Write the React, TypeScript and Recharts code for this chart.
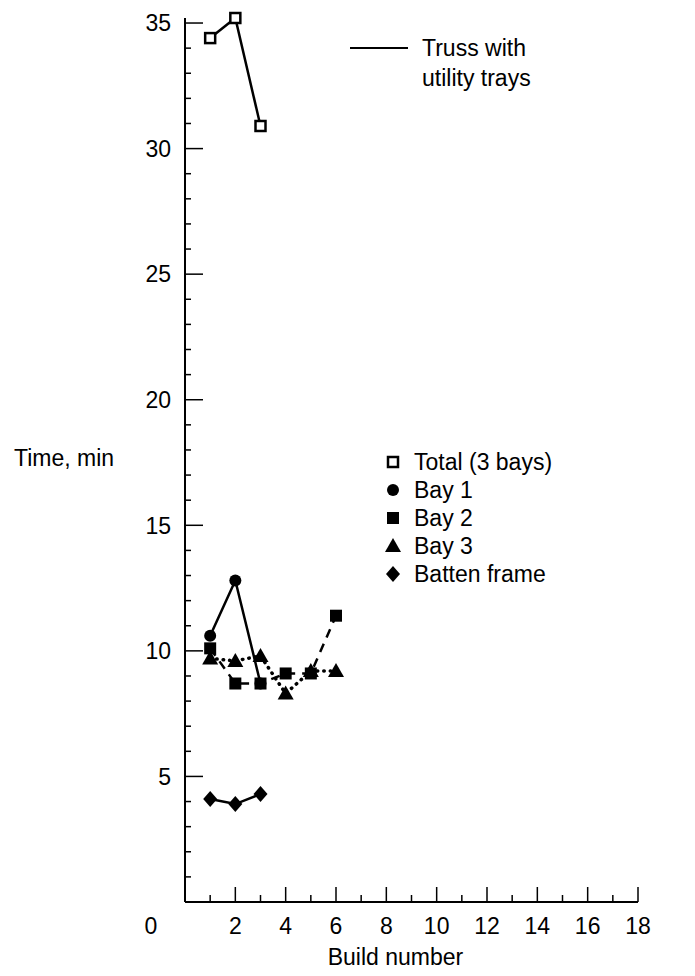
import React from 'react'
import { LineChart, Line, XAxis, YAxis, Legend } from 'recharts'

// build numbers and times (min)
const builds = [1, 2, 3, 4, 5, 6]
const totalTime = [34.4, 35.2, 30.9]
const bay1Time = [10.6, 12.8, 8.7]
const bay2Time = [10.1, 8.7, 8.7, 9.1, 9.1, 11.4]
const bay3Time = [9.7, 9.6, 9.8, 8.3, 9.2, 9.2]
const battenTime = [4.1, 3.9, 4.3]

const xTicks = Array.from({ length: 19 }, (_, i) => i)
const yTicks = Array.from({ length: 36 }, (_, i) => i)

const FONT = "'Liberation Sans', Arial, sans-serif"
const FS = 23

// plot frame: left edge = margin.left + YAxis width, bottom = height - XAxis height
const AXIS_X = 185
const AXIS_Y = 902

const toRows = (vals: number[]) => vals.map((t, i) => ({ build: builds[i], time: t }))

type MarkerKind = 'hollowSquare' | 'circle' | 'square' | 'triangle' | 'diamond'

function Marker({ kind, cx, cy }: { kind: MarkerKind; cx: number; cy: number }) {
  switch (kind) {
    case 'hollowSquare':
      return <rect x={cx - 5} y={cy - 5} width={10} height={10} fill="#fff" stroke="#000" strokeWidth={2.5} />
    case 'circle':
      return <circle cx={cx} cy={cy} r={6} fill="#000" />
    case 'square':
      return <rect x={cx - 6} y={cy - 6} width={12} height={12} fill="#000" />
    case 'triangle':
      return <polygon points={`${cx},${cy - 8} ${cx + 8},${cy + 6} ${cx - 8},${cy + 6}`} fill="#000" />
    default:
      return <polygon points={`${cx},${cy - 8} ${cx + 7},${cy} ${cx},${cy + 8} ${cx - 7},${cy}`} fill="#000" />
  }
}

const dotFor = (kind: MarkerKind) => (p: any) => {
  if (p.cx == null || p.cy == null) return <g key={p.key ?? p.index} />
  return (
    <g key={`${kind}-${p.index}`}>
      <Marker kind={kind} cx={p.cx} cy={p.cy} />
    </g>
  )
}

const series = [
  { name: 'Total (3 bays)', data: toRows(totalTime), marker: 'hollowSquare' as MarkerKind, dash: undefined },
  { name: 'Bay 1', data: toRows(bay1Time), marker: 'circle' as MarkerKind, dash: undefined },
  { name: 'Bay 2', data: toRows(bay2Time), marker: 'square' as MarkerKind, dash: '9 7' },
  { name: 'Bay 3', data: toRows(bay3Time), marker: 'triangle' as MarkerKind, dash: '0.5 6' },
  { name: 'Batten frame', data: toRows(battenTime), marker: 'diamond' as MarkerKind, dash: undefined },
]

function XTick(props: any) {
  const { x, payload } = props
  const y = AXIS_Y
  const v = payload.value
  if (v === 0) {
    return (
      <text x={x - 34} y={y + 32} textAnchor="middle" fontSize={FS} fontFamily={FONT} fill="#000">0</text>
    )
  }
  const major = v % 2 === 0
  return (
    <g>
      <line x1={x} y1={y} x2={x} y2={y - (major ? 15 : 7)} stroke="#000" strokeWidth={1.5} />
      {major && (
        <text x={x} y={y + 32} textAnchor="middle" fontSize={FS} fontFamily={FONT} fill="#000">{v}</text>
      )}
    </g>
  )
}

function YTick(props: any) {
  const { y, payload } = props
  const x = AXIS_X
  const v = payload.value
  if (v === 0) return <g />
  const major = v % 5 === 0
  return (
    <g>
      <line x1={x} y1={y} x2={x + (major ? 18 : 6)} y2={y} stroke="#000" strokeWidth={1.5} />
      {major && (
        <text x={x - 14} y={y} dy="0.36em" textAnchor="end" fontSize={FS} fontFamily={FONT} fill="#000">{v}</text>
      )}
    </g>
  )
}

function LegendBox() {
  return (
    <div style={{ fontFamily: FONT, fontSize: FS, color: '#000' }}>
      {series.map((s) => (
        <div key={s.name} style={{ display: 'flex', alignItems: 'center', height: 28 }}>
          <svg width={22} height={20} style={{ marginRight: 10 }}>
            <Marker kind={s.marker} cx={11} cy={10} />
          </svg>
          <span>{s.name}</span>
        </div>
      ))}
    </div>
  )
}

export default function App() {
  return (
    <div style={{ position: 'relative', width: 695, height: 976, fontFamily: FONT, background: '#fff' }}>
      <style>{`body{margin:0}`}</style>
      <LineChart width={695} height={976} margin={{ top: 18, right: 57, bottom: 0, left: 0 }}>
        <XAxis
          type="number"
          dataKey="build"
          domain={[0, 18]}
          ticks={xTicks}
          interval={0}
          allowDuplicatedCategory={false}
          height={74}
          tickSize={0}
          tickMargin={0}
          tickLine={false}
          tick={<XTick />}
          axisLine={{ stroke: '#000', strokeWidth: 2 }}
          label={{
            content: (p: any) => {
              const vb = p.viewBox
              return (
                <text x={vb.x + vb.width / 2 - 16} y={vb.y + 63} textAnchor="middle" fontSize={FS} fontFamily={FONT} fill="#000">
                  Build number
                </text>
              )
            },
          }}
        />
        <YAxis
          type="number"
          domain={[0, 35]}
          ticks={yTicks}
          interval={0}
          width={185}
          tickSize={0}
          tickMargin={0}
          tickLine={false}
          tick={<YTick />}
          axisLine={{ stroke: '#000', strokeWidth: 2 }}
          label={{
            content: (p: any) => {
              const vb = p.viewBox
              return (
                <text x={14} y={vb.y + vb.height / 2 + 6} fontSize={FS} fontFamily={FONT} fill="#000">
                  Time, min
                </text>
              )
            },
          }}
        />
        <Legend
          layout="vertical"
          align="center"
          verticalAlign="middle"
          content={() => <LegendBox />}
          wrapperStyle={{ left: 382, top: 448, width: 270 }}
        />
        {series.map((s) => (
          <Line
            key={s.name}
            name={s.name}
            data={s.data}
            dataKey="time"
            type="linear"
            stroke="#000"
            strokeWidth={s.dash === '0.5 6' ? 3.5 : 2.5}
            strokeDasharray={s.dash}
            strokeLinecap={s.dash === '0.5 6' ? 'round' : 'butt'}
            dot={dotFor(s.marker)}
            activeDot={false}
            isAnimationActive={false}
          />
        ))}
      </LineChart>
      <div style={{ position: 'absolute', left: 350, top: 33, fontSize: FS, lineHeight: '30px', color: '#000' }}>
        <div style={{ display: 'flex', alignItems: 'center' }}>
          <div style={{ width: 58, height: 0, borderTop: '2px solid #000', marginRight: 14 }} />
          <span>Truss with</span>
        </div>
        <div style={{ marginLeft: 72 }}>utility trays</div>
      </div>
    </div>
  )
}
